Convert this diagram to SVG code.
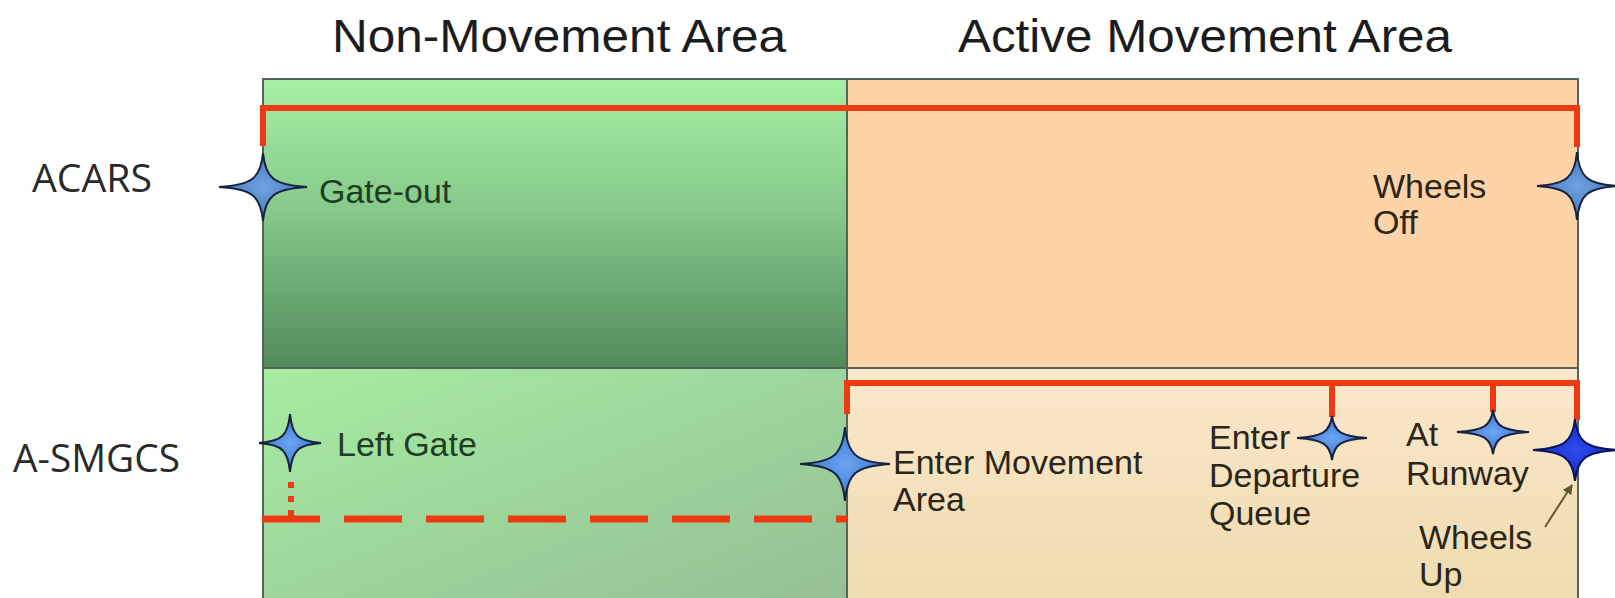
<svg xmlns="http://www.w3.org/2000/svg" width="1615" height="598" viewBox="0 0 1615 598">
  <style>
    .title { font-family: "Liberation Sans", Arial, sans-serif; font-size: 46px; fill: #1c1c1c; }
    .row { font-family: "Open Sans", "Liberation Sans", sans-serif; font-size: 39px; fill: #2a2a2a; }
    .lbl { font-family: "Liberation Sans", Arial, sans-serif; font-size: 34px; fill: #2b2618; }
    .lbl-green { fill: #1f3d22; }
    .panel-edge { fill: none; stroke: #55645a; stroke-width: 2; }
    .track { fill: none; stroke: #ee3a12; stroke-width: 6; }
    .track-dash { fill: none; stroke: #ee3a12; stroke-width: 7; stroke-dasharray: 58 24; }
    .track-dot { fill: none; stroke: #ee3a12; stroke-width: 6; stroke-dasharray: 6 8; }
    .star { stroke: #17223e; stroke-width: 2; stroke-linejoin: miter; }
    .star-dark { stroke: #0a1260; }
    .pointer { fill: none; stroke: #5e5a30; stroke-width: 2; }
  </style>
  <defs>
    <linearGradient id="gTopLeft" x1="0" y1="0" x2="0" y2="1">
      <stop offset="0" stop-color="#a7efa4"/>
      <stop offset="0.45" stop-color="#86c98a"/>
      <stop offset="1" stop-color="#518b5b"/>
    </linearGradient>
    <linearGradient id="gBottomLeft" x1="0" y1="0" x2="1" y2="1">
      <stop offset="0" stop-color="#a6eca1"/>
      <stop offset="1" stop-color="#95c095"/>
    </linearGradient>
    <linearGradient id="gBottomRight" x1="0" y1="0" x2="0" y2="1">
      <stop offset="0" stop-color="#fbe7cb"/>
      <stop offset="1" stop-color="#eedcb0"/>
    </linearGradient>
    <radialGradient id="gStar" cx="0.5" cy="0.5" r="0.5">
      <stop offset="0" stop-color="#6aa6f5"/>
      <stop offset="1" stop-color="#3a6fc8"/>
    </radialGradient>
    <radialGradient id="gStarSteel" cx="0.5" cy="0.5" r="0.5">
      <stop offset="0" stop-color="#6ea3e0"/>
      <stop offset="1" stop-color="#4774b8"/>
    </radialGradient>
    <radialGradient id="gStarDark" cx="0.5" cy="0.5" r="0.5">
      <stop offset="0" stop-color="#2c4cf0"/>
      <stop offset="1" stop-color="#1228b8"/>
    </radialGradient>
    <marker id="tip" viewBox="0 0 10 10" refX="9" refY="5" markerWidth="5" markerHeight="5" orient="auto">
      <path d="M 0 0 L 10 5 L 0 10 Z" fill="#5e5a30"/>
    </marker>
  </defs>

  <rect width="1615" height="598" fill="#ffffff"/>

  <!-- column headings -->
  <text class="title" x="332" y="52" textLength="454" lengthAdjust="spacingAndGlyphs">Non-Movement Area</text>
  <text class="title" x="958" y="52" textLength="494" lengthAdjust="spacingAndGlyphs">Active Movement Area</text>

  <!-- row headings -->
  <text class="row" x="32" y="192" textLength="120" lengthAdjust="spacingAndGlyphs">ACARS</text>
  <text class="row" x="13" y="472" textLength="167" lengthAdjust="spacingAndGlyphs">A-SMGCS</text>

  <!-- panels -->
  <g id="panels">
    <rect x="263" y="79" width="584" height="289" fill="url(#gTopLeft)"/>
    <rect x="847" y="79" width="731" height="289" fill="#fdd3a7"/>
    <rect x="263" y="368" width="584" height="232" fill="url(#gBottomLeft)"/>
    <rect x="847" y="368" width="731" height="232" fill="url(#gBottomRight)"/>
    <path class="panel-edge" d="M 263 600 V 79 H 1578 V 600 M 263 368 H 1578 M 847 79 V 600"/>
  </g>

  <!-- event tracks -->
  <g id="connectors">
    <path class="track" d="M 263 146 V 108 H 1577 V 147"/>
    <path class="track" d="M 847 414 V 383 H 1577 V 420 M 1332 383 V 417 M 1493 383 V 412"/>
    <line class="track-dash" x1="262" y1="519" x2="847" y2="519"/>
    <line class="track-dot" x1="291" y1="482" x2="291" y2="516"/>
    <line class="pointer" x1="1545" y1="527" x2="1572" y2="485" marker-end="url(#tip)"/>
  </g>

  <!-- ACARS events (four-point stars with thin tapered arms) -->
  <g id="gate-out">
    <path class="star" fill="url(#gStarSteel)" transform="translate(263 187)" d="M -44 0 C -11 -2 -2.5 -8.5 0 -34 C 2.5 -8.5 11 -2 44 0 C 11 2 2.5 8.5 0 34 C -2.5 8.5 -11 2 -44 0 Z"/>
    <text class="lbl lbl-green" x="319" y="203">Gate-out</text>
  </g>
  <g id="wheels-off">
    <path class="star" fill="url(#gStarSteel)" transform="translate(1577 186)" d="M -40 0 C -10 -2 -2.5 -8.5 0 -34 C 2.5 -8.5 10 -2 40 0 C 10 2 2.5 8.5 0 34 C -2.5 8.5 -10 2 -40 0 Z"/>
    <text class="lbl" x="1373" y="198">Wheels</text>
    <text class="lbl" x="1373" y="234">Off</text>
  </g>

  <!-- A-SMGCS events -->
  <g id="left-gate">
    <path class="star" fill="url(#gStar)" transform="translate(290 443)" d="M -31 0 C -8 -1.8 -2.2 -7 0 -29 C 2.2 -7 8 -1.8 31 0 C 8 1.8 2.2 7 0 29 C -2.2 7 -8 1.8 -31 0 Z"/>
    <text class="lbl lbl-green" x="337" y="456">Left Gate</text>
  </g>
  <g id="enter-movement-area">
    <path class="star" fill="url(#gStar)" transform="translate(845 464)" d="M -45 0 C -11 -2.2 -2.8 -9 0 -37 C 2.8 -9 11 -2.2 45 0 C 11 2.2 2.8 9 0 37 C -2.8 9 -11 2.2 -45 0 Z"/>
    <text class="lbl" x="893" y="474">Enter Movement</text>
    <text class="lbl" x="893" y="511">Area</text>
  </g>
  <g id="enter-departure-queue">
    <path class="star" fill="url(#gStar)" transform="translate(1332 438)" d="M -35 0 C -9 -1.6 -2.2 -6 0 -22 C 2.2 -6 9 -1.6 35 0 C 9 1.6 2.2 6 0 22 C -2.2 6 -9 1.6 -35 0 Z"/>
    <text class="lbl" x="1209" y="449">Enter</text>
    <text class="lbl" x="1209" y="487">Departure</text>
    <text class="lbl" x="1209" y="525">Queue</text>
  </g>
  <g id="at-runway">
    <path class="star" fill="url(#gStar)" transform="translate(1493 432)" d="M -36 0 C -9 -1.6 -2.2 -6 0 -22 C 2.2 -6 9 -1.6 36 0 C 9 1.6 2.2 6 0 22 C -2.2 6 -9 1.6 -36 0 Z"/>
    <text class="lbl" x="1406" y="446">At</text>
    <text class="lbl" x="1406" y="485">Runway</text>
  </g>
  <g id="wheels-up">
    <path class="star star-dark" fill="url(#gStarDark)" transform="translate(1575 450)" d="M -42 0 C -10.5 -2 -2.6 -8 0 -31 C 2.6 -8 10.5 -2 42 0 C 10.5 2 2.6 8 0 31 C -2.6 8 -10.5 2 -42 0 Z"/>
    <text class="lbl" x="1419" y="549">Wheels</text>
    <text class="lbl" x="1419" y="586">Up</text>
  </g>
</svg>
